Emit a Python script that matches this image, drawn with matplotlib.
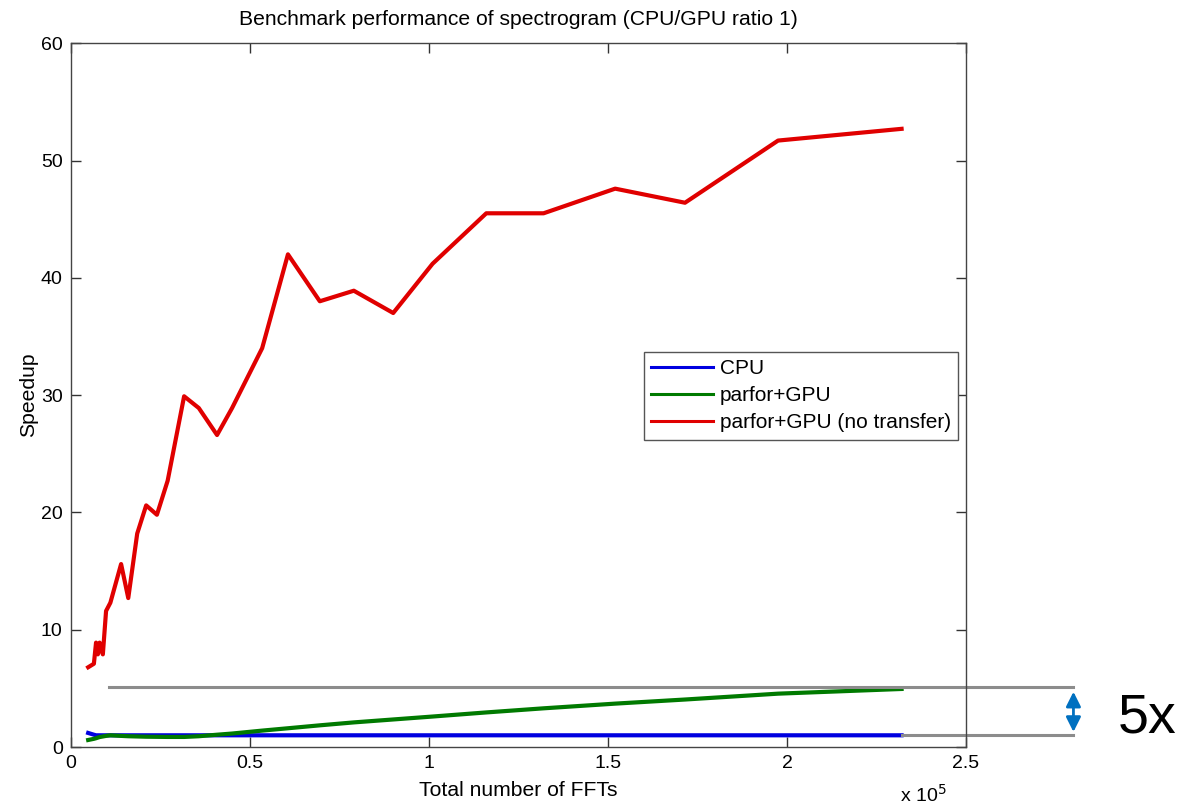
import numpy as np
import matplotlib.pyplot as plt

plt.rcParams['font.family'] = ['Liberation Sans', 'DejaVu Sans']

# total number of FFTs per run
fft_counts = np.array([4800, 6400, 7000, 7500, 8000, 8900, 9800, 11000, 14000, 16000,
                       18500, 21000, 24000, 27000, 31600, 35700, 40800, 45000, 53400, 60600,
                       69500, 79000, 90000, 101000, 116000, 132000, 152000, 171500, 197500, 232000])

# speedup relative to CPU
cpu = np.array([1.2, 1.05, 1.0, 1.0, 1.0, 1.0, 1.0, 1.0, 1.0, 1.0,
                1.0, 1.0, 1.0, 1.0, 1.0, 1.0, 1.0, 1.0, 1.0, 1.0,
                1.0, 1.0, 1.0, 1.0, 1.0, 1.0, 1.0, 1.0, 1.0, 1.0])
gpu = np.array([0.6, 0.7, 0.75, 0.8, 0.85, 0.9, 0.95, 1.0, 0.95, 0.92,
                0.9, 0.88, 0.87, 0.86, 0.86, 0.92, 1.05, 1.15, 1.4, 1.6,
                1.85, 2.1, 2.35, 2.6, 2.95, 3.3, 3.7, 4.05, 4.55, 4.95])
gpu_no_transfer = np.array([6.8, 7.1, 8.9, 7.9, 8.9, 7.9, 11.6, 12.3, 15.6, 12.7,
                            18.2, 20.6, 19.8, 22.7, 29.9, 28.9, 26.6, 28.9, 34.0, 42.0,
                            38.0, 38.9, 37.0, 41.2, 45.5, 45.5, 47.6, 46.4, 51.7, 52.7])

labels = ['CPU', 'parfor+GPU', 'parfor+GPU (no transfer)']

fig = plt.figure(figsize=(11.83, 8.09), dpi=100)
ax = fig.add_axes([0.060, 0.0766, 0.7566, 0.870])

x = fft_counts / 1e5
ax.plot(x, cpu, color='#0000e0', lw=3, label=labels[0])
ax.plot(x, gpu, color='#007a00', lw=3, label=labels[1])
ax.plot(x, gpu_no_transfer, color='#e00000', lw=3, label=labels[2])

ax.set_xlim(0, 2.5)
ax.set_ylim(0, 60)
ax.set_xticks([0, 0.5, 1, 1.5, 2, 2.5])
ax.set_xticklabels(['0', '0.5', '1', '1.5', '2', '2.5'])
ax.set_yticks(range(0, 61, 10))
ax.tick_params(direction='in', length=7, width=1, top=True, right=True,
               labelsize=14, colors='#333333', labelcolor='black', pad=6)
for s in ax.spines.values():
    s.set_color('#444444')
    s.set_linewidth(1)

ax.set_title('Benchmark performance of spectrogram (CPU/GPU ratio 1)', fontsize=15.2, pad=13)
ax.set_xlabel('Total number of FFTs', fontsize=15.2, labelpad=6)
ax.set_ylabel('Speedup', fontsize=15.2, labelpad=2)
fig.text(0.80, 0.004, r'x 10$^5$', fontsize=14, ha='right', va='bottom')

leg = ax.legend(loc='upper right', bbox_to_anchor=(0.991, 0.561), fontsize=15,
                fancybox=False, edgecolor='#555555', framealpha=1,
                handlelength=3.0, labelspacing=0.38, borderpad=0.35, handletextpad=0.3,
                borderaxespad=0)
leg.get_frame().set_linewidth(1)
for h in leg.get_lines():
    h.set_linewidth(2.2)

# 5x annotation outside the axes
ax.plot([0.106, 2.80], [gpu[-1] + 0.15, gpu[-1] + 0.15], color='#8c8c8c', lw=2.2, clip_on=False)
ax.plot([x[-1], 2.80], [cpu[-1], cpu[-1]], color='#8c8c8c', lw=2.2, clip_on=False)
ax.annotate('', xy=(2.80, gpu[-1]), xytext=(2.80, cpu[-1] + 0.05),
            arrowprops=dict(arrowstyle='<|-|>', color='#0070c0', lw=2, mutation_scale=22),
            annotation_clip=False)
fig.text(0.945, 0.112, '5x', fontsize=40, ha='left', va='center')

fig.savefig('out.png', dpi=100)
